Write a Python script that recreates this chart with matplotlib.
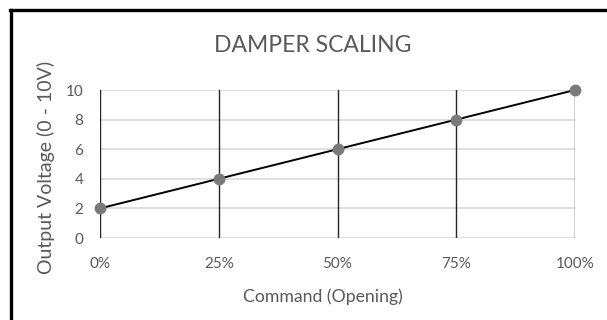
import matplotlib.pyplot as plt
from matplotlib.lines import Line2D

plt.rcParams['font.family'] = ['Lato', 'DejaVu Sans']

# Damper command vs output voltage
command = [0, 25, 50, 75, 100]
voltage = [2, 4, 6, 8, 10]
x_labels = ['0%', '25%', '50%', '75%', '100%']
y_ticks = [0, 2, 4, 6, 8, 10]

text_color = '#595959'
W, H = 607, 320

fig = plt.figure(figsize=(W / 100, H / 100), dpi=100, facecolor='white')
ax = fig.add_axes([100 / W, 1 - 238 / H, 475 / W, 148 / H])

# light horizontal grid, dark vertical grid
for y in y_ticks:
    ax.axhline(y, color='#d9d9d9', linewidth=1.2, zorder=1)
for x in command:
    ax.axvline(x, color='#262626', linewidth=1.0, zorder=2)

ax.plot(command, voltage, color='black', linewidth=1.4, zorder=3, clip_on=False)
ax.plot(command, voltage, linestyle='none', marker='o', markersize=7.5,
        color='#7a7a7a', zorder=4, clip_on=False)

ax.set_xlim(0, 100)
ax.set_ylim(0, 10)
ax.set_xticks(command)
ax.set_xticklabels(x_labels)
ax.set_yticks(y_ticks)
ax.tick_params(length=0, labelsize=11, colors=text_color)
ax.tick_params(axis='x', pad=14)
ax.tick_params(axis='y', pad=12)
for side in ['top', 'right', 'bottom', 'left']:
    ax.spines[side].set_visible(False)

# titles are centred on the whole chart box, not the plot area
fig.text(313 / W, 1 - 46 / H, 'DAMPER SCALING', fontsize=16.5, color=text_color,
         ha='center', va='center')
fig.text(323 / W, 1 - 297 / H, 'Command (Opening)', fontsize=12.7, color=text_color,
         ha='center', va='center')
fig.text(46 / W, 1 - 167 / H, 'Output Voltage (0 - 10V)', fontsize=14, color=text_color,
         ha='center', va='center', rotation=90)

# black frame along top and left edge
fig.add_artist(Line2D([10.5 / W, 10.5 / W], [0, 1 - 9.5 / H], color='black',
                      linewidth=2.4, transform=fig.transFigure))
fig.add_artist(Line2D([9.5 / W, 1], [1 - 9.5 / H, 1 - 9.5 / H], color='black',
                      linewidth=2.4, transform=fig.transFigure))

fig.savefig('out.png', dpi=100, facecolor='white')
